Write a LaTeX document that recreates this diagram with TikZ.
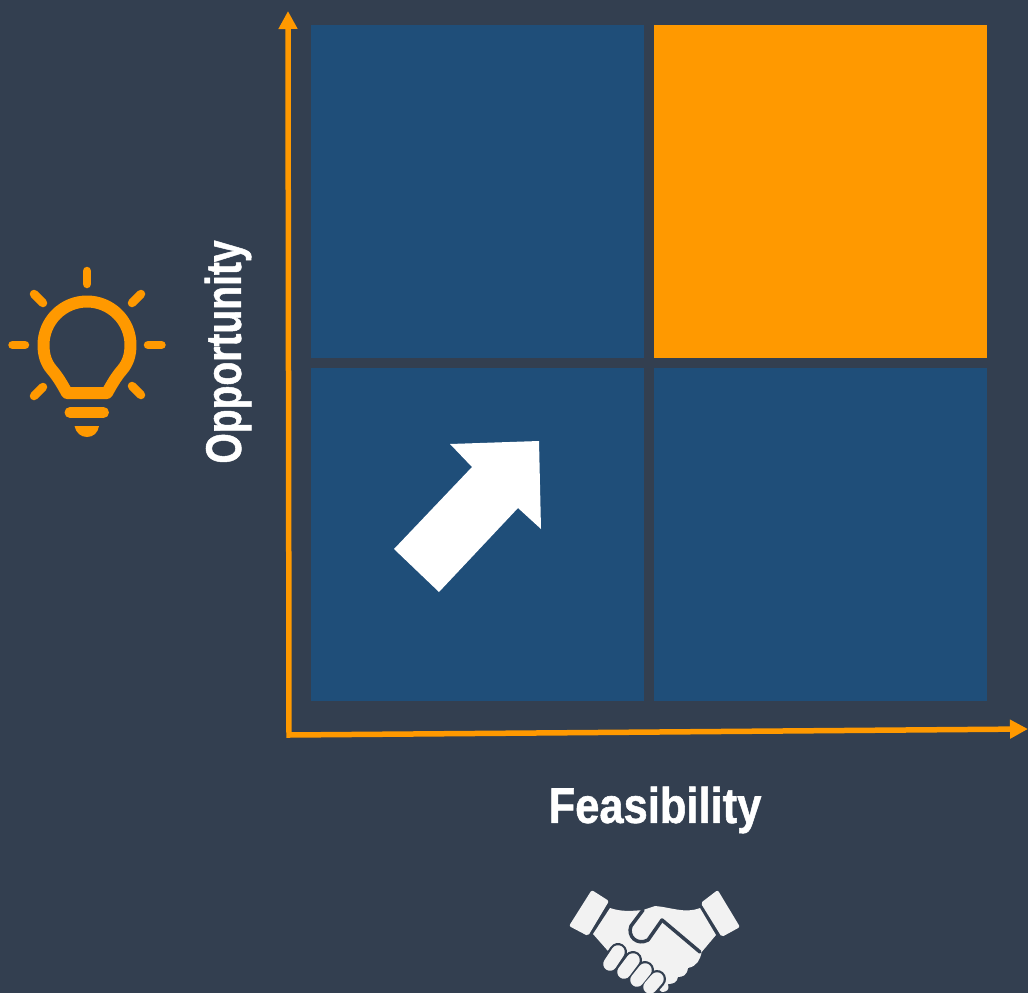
\documentclass[tikz,border=0pt]{standalone}
\usepackage{fontspec}
\setmainfont[BoldFeatures={FakeBold=1.2}]{Liberation Sans}
\usetikzlibrary{matrix,arrows.meta}
\definecolor{slatebg}{HTML}{333F50}
\definecolor{cellblue}{HTML}{1F4E79}
\definecolor{amber}{HTML}{FF9900}
\definecolor{handgrey}{HTML}{F2F2F2}
\tikzset{
  bluecell/.style={fill=cellblue, minimum size=333pt, inner sep=0pt},
  ambercell/.style={fill=amber, minimum size=333pt, inner sep=0pt},
  axislabel/.style={text=white, inner sep=0pt, transform shape, font=\fontsize{50}{60}\selectfont\bfseries},
  ray/.style={draw=amber, line width=8.5pt, line cap=round},
  finger/.style={line width=13.5pt, line cap=round}
}
\begin{document}
\begin{tikzpicture}[x=1pt, y=-1pt]
\fill[slatebg] (0,0) rectangle (1028,993);
\useasboundingbox (0,0) rectangle (1028,993);
\matrix (m) [matrix of nodes, row sep=10pt, column sep=10pt, anchor=center] at (649,363)
{  |[bluecell]| {} & |[ambercell]| {} \\
   |[bluecell]| {} & |[bluecell]| {} \\
};
\coordinate (ytip) at (288,11);
\coordinate (origin) at (289,735);
\coordinate (xtip) at (1028,729);
\draw[amber, line width=5.5pt, {Triangle[length=18pt,width=18pt]}-{Triangle[length=18pt,width=18pt]}]
  (ytip) -- (origin) -- (xtip);
\node[axislabel, xscale=.87] (feas) at (655,810) {Feasibility};
\node[rotate=90, axislabel, xscale=.78] (opp) at (228,352) {Opportunity};
\fill[white] (394,549) -- (472,467) -- (450,444) -- (539,441) -- (541,529) -- (518,508) -- (439,592) -- cycle;
\draw[amber, line width=12pt, line join=round]
  (67,393) .. controls (62,384) and (58,377) .. (52,370) .. controls (46,363) and (43.5,355) .. (43.5,345)
  arc[start angle=180, end angle=360, radius=43.5]
  .. controls (130.5,355) and (128,363) .. (122,370) .. controls (116,377) and (112,384) .. (107,393) -- cycle;
\draw[ray] (87,271) -- (87,284);
\draw[ray] (12.5,345) -- (25,345);
\draw[ray] (148,345) -- (161.5,345);
\draw[ray] (34,294) -- (43,303);
\draw[ray] (141,294) -- (132,303);
\draw[ray] (34,396) -- (43,387);
\draw[ray] (132,386) -- (141,395);
\draw[amber, line width=11pt, line cap=round] (70,412.5) -- (103.5,412.5);
\fill[amber] (74.5,426) -- (99,426) .. controls (98,433) and (93,437) .. (87,437) .. controls (81,437) and (76,433) .. (74.5,426) -- cycle;
\fill[handgrey, rounded corners=2pt] (591.7,890) -- (609,901) -- (588,936) -- (569,926) -- cycle;
\fill[handgrey, rounded corners=2pt] (717.7,890) -- (740,927) -- (721.7,937) -- (700.7,903) -- cycle;
\fill[handgrey] (610,908) .. controls (622,912) and (632,911) .. (643,910) -- (655,906) .. controls (670,907) and (685,914) .. (700,908)
  -- (716,935) -- (701.7,952) .. controls (700,960) and (697,966) .. (688,968) .. controls (687,975) and (683,977) .. (678,977)
  .. controls (677,982) and (674,984) .. (668,984) .. controls (670,990) and (666,992) .. (662,992)
  -- (640,975) -- (608,951) -- (593,934) -- cycle;
\draw[slatebg, line width=3.5pt, line cap=round, line join=round]
  (643,910) -- (631,926) .. controls (627,936) and (637,946) .. (648,940) -- (662,920) -- (700,952);
\foreach \xa/\ya/\xb/\yb in {618/952/610/964, 633/960/624/972, 645/970/637/980, 657/979/650/987} {
  \draw[slatebg, finger, line width=18pt] (\xa,\ya) -- (\xb,\yb);
}
\foreach \xa/\ya/\xb/\yb in {618/952/610/964, 633/960/624/972, 645/970/637/980, 657/979/650/987} {
  \draw[handgrey, finger] (\xa,\ya) -- (\xb,\yb);
}
\end{tikzpicture}
\end{document}
